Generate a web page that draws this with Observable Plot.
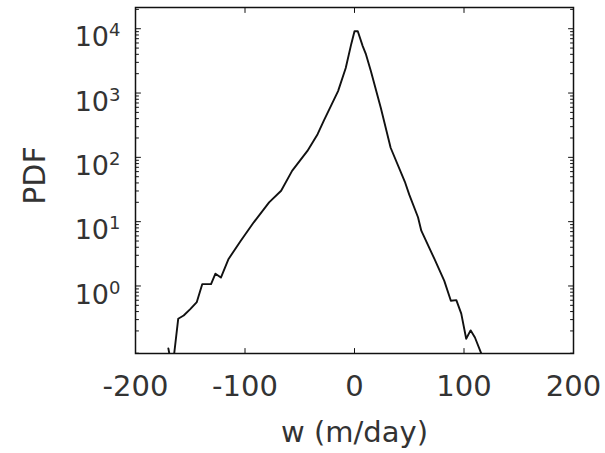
<!DOCTYPE html>
<html>
<head>
<meta charset="utf-8">
<script src="https://cdn.jsdelivr.net/npm/d3@7"></script>
<script src="https://cdn.jsdelivr.net/npm/@observablehq/plot@0.6"></script>
<style>
  html, body { margin: 0; padding: 0; background: #fff; }
  #chart svg { display: block; }
</style>
</head>
<body>
<div id="chart"></div>
<script>
// vertical velocity w (m/day)
const w = [-170, -168, -166, -161, -156, -150, -144, -139, -131, -127, -122, -115, -104, -92, -78, -67, -57, -43, -33.7, -28, -21.5, -15, -8, -3, 0, 3, 7.5, 10.5, 15, 24, 33, 46, 50, 58, 61, 73, 82, 88, 93, 97.5, 102, 106, 110, 116, 118];
// probability density (log scale)
const pdf = [0.107, 0.0708, 0.0562, 0.309, 0.347, 0.437, 0.562, 1.07, 1.07, 1.55, 1.35, 2.63, 5.01, 9.77, 19.9, 30.2, 61.7, 126, 229, 372, 631, 1072, 2455, 5754, 9120, 9120, 5370, 3981, 2188, 589, 141, 41.7, 26.3, 11.7, 7.24, 2.63, 1.20, 0.589, 0.603, 0.372, 0.151, 0.204, 0.158, 0.0871, 0.063];

const xTicks = [-200, -100, 0, 100, 200];
const yTicks = [1, 10, 100, 1000, 10000];
const yTickExp = ["0", "1", "2", "3", "4"];
const xLabel = "w (m/day)";
const yLabel = "PDF";

const data = w.map((x, i) => ({x, y: pdf[i]}));

const xDomain = [-200, 200];
const yDomain = [Math.pow(10, -1.05), Math.pow(10, 4.33)];

// minor log ticks (2..9 per decade)
const minor = [];
for (let k = -2; k <= 4; k++) for (let m = 2; m <= 9; m++) minor.push(m * Math.pow(10, k));
const minorIn = minor.filter(v => v >= yDomain[0] && v <= yDomain[1]);

// a plain stroke shape for inward tick marks
const tickShape = {draw(context, l) { context.moveTo(0, 0); context.lineTo(0, -l); }};
const tickOpts = {shape: tickShape, anchor: "start", stroke: "#111", strokeWidth: 1};

const font = "DejaVu Sans, sans-serif";
const ink = "#333";

const chart = Plot.plot({
  width: 605,
  height: 453,
  marginLeft: 135,
  marginRight: 32,
  marginTop: 7,
  marginBottom: 100,
  style: {fontFamily: font, background: "#fff", color: ink},
  x: {domain: xDomain, axis: null},
  y: {type: "log", domain: yDomain, axis: null},
  marks: [
    Plot.line(data, {x: "x", y: "y", stroke: "#111", strokeWidth: 1.9, clip: true}),
    // inward ticks: bottom / top
    Plot.vector(xTicks, {x: d => d, y: yDomain[0], length: 5, rotate: 0, ...tickOpts}),
    Plot.vector(xTicks, {x: d => d, y: yDomain[1], length: 5, rotate: 180, ...tickOpts}),
    // inward ticks: left / right (major and minor)
    Plot.vector(yTicks, {x: xDomain[0], y: d => d, length: 5, rotate: 90, ...tickOpts}),
    Plot.vector(yTicks, {x: xDomain[1], y: d => d, length: 5, rotate: -90, ...tickOpts}),
    Plot.vector(minorIn, {x: xDomain[0], y: d => d, length: 3, rotate: 90, ...tickOpts}),
    Plot.vector(minorIn, {x: xDomain[1], y: d => d, length: 3, rotate: -90, ...tickOpts}),
    // tick labels
    Plot.axisX(xTicks, {anchor: "bottom", tickSize: 0, tickPadding: 22, fontSize: 29, label: null,
      tickFormat: d => (d < 0 ? "-" + Math.abs(d) : String(d)), fill: ink}),
    Plot.axisY(yTicks, {anchor: "left", tickSize: 0, tickPadding: 15, fontSize: 27, label: null,
      tickFormat: d => "10^" + yTickExp[yTicks.indexOf(d)], dy: 9, fill: ink}),
    Plot.frame({stroke: "#111", strokeWidth: 1.5}),
    Plot.text([xLabel], {text: d => d, frameAnchor: "bottom", textAnchor: "middle", lineAnchor: "middle",
      dy: 79, fontSize: 29, fill: ink, style: "letter-spacing: 2.5px"}),
    Plot.text([yLabel], {text: d => d, frameAnchor: "left", textAnchor: "middle", lineAnchor: "middle",
      dx: -100, dy: -5, rotate: -90, fontSize: 30, fill: ink, style: "letter-spacing: 2.5px"})
  ]
});

// render superscript exponents as real text tspans
d3.select(chart).selectAll('g[aria-label="y-axis tick label"] text').each(function() {
  const t = this.textContent;
  const m = t.match(/^10\^(.*)$/);
  if (!m) return;
  const sel = d3.select(this);
  sel.text("10");
  sel.append("tspan").attr("dy", "-10").attr("font-size", "18").text(m[1]);
});

document.getElementById("chart").appendChild(chart);
</script>
</body>
</html>
